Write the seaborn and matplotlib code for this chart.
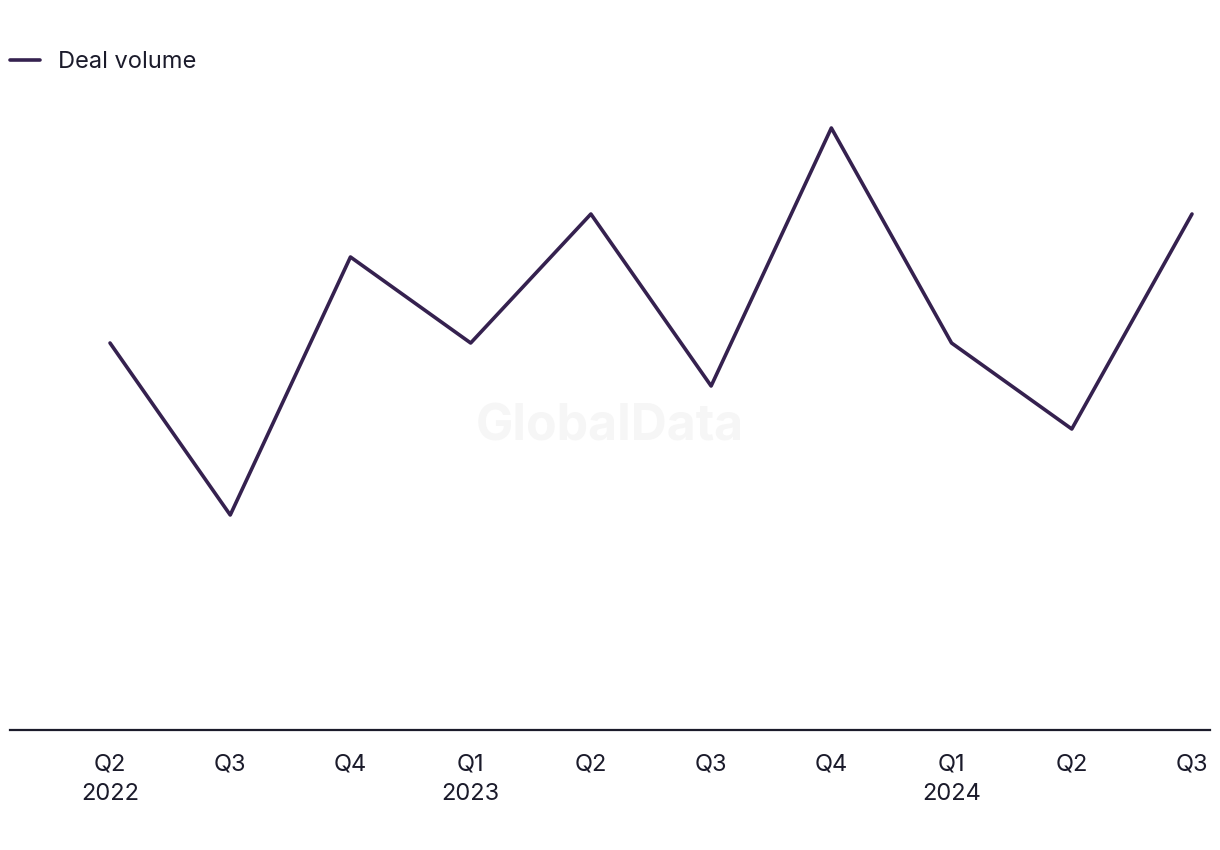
import numpy as np
import pandas as pd
import seaborn as sns
import matplotlib.pyplot as plt

# Chart data
quarters = ["Q2\n2022", "Q3", "Q4", "Q1\n2023", "Q2", "Q3", "Q4", "Q1\n2024", "Q2", "Q3"]
deal_volume = [9, 5, 11, 9, 12, 8, 14, 9, 7, 12]

df = pd.DataFrame({"pos": np.arange(len(quarters)), "Deal volume": deal_volume})

sns.set_theme(style="white")
plt.rcParams["font.family"] = ["Inter", "DejaVu Sans"]

line_color = "#35214f"
text_color = "#1b1b2b"

fig = plt.figure(figsize=(12.2, 8.5), dpi=100)
ax = fig.add_axes([10 / 1220, 1 - 730 / 850, 1200 / 1220, 645 / 850])

sns.lineplot(
    data=df,
    x="pos",
    y="Deal volume",
    color=line_color,
    linewidth=2.6,
    label="Deal volume",
    ax=ax
)

# Watermark
ax.text(
    0.5, 0.47, "GlobalData",
    transform=ax.transAxes,
    ha="center", va="center",
    fontsize=36, fontweight="bold",
    color="#f6f6f6", zorder=0
)

ax.set_xlim(-100 / 120.2, 9 + 18 / 120.2)
ax.set_ylim(0, 15)
ax.set_xticks(df["pos"])
ax.set_xticklabels(quarters, fontsize=17, color=text_color, linespacing=1.45)
ax.set_yticks([])
ax.set_xlabel("")
ax.set_ylabel("")
ax.tick_params(axis="x", length=0, pad=17)

for side in ["top", "right", "left"]:
    ax.spines[side].set_visible(False)
ax.spines["bottom"].set_color(text_color)
ax.spines["bottom"].set_linewidth(1.6)

ax.legend(
    loc="center left",
    bbox_to_anchor=(10 / 1220, 1 - 62 / 850),
    bbox_transform=fig.transFigure,
    frameon=False,
    fontsize=17,
    handlelength=1.25,
    handletextpad=0.8,
    borderpad=0,
    borderaxespad=0,
    labelcolor=text_color
)

fig.savefig("out.png", dpi=100)
